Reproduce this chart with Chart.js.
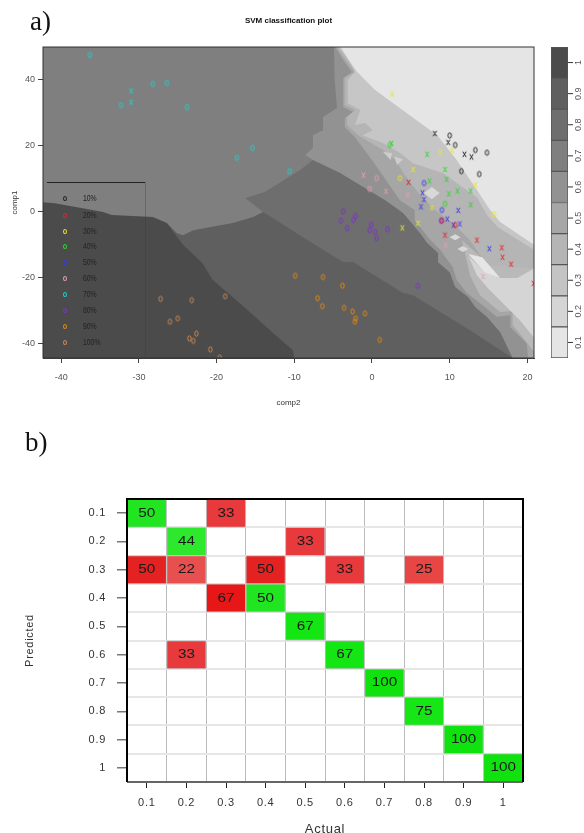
<!DOCTYPE html>
<html>
<head>
<meta charset="utf-8">
<title>SVM classification</title>
<script src="https://cdn.jsdelivr.net/npm/chart.js@4/dist/chart.umd.js"></script>
<style>
  html, body { margin: 0; padding: 0; background: #fff; }
  #page { position: relative; width: 584px; height: 833px; overflow: hidden; font-family: "Liberation Sans", sans-serif; }
  canvas { position: absolute; }
  #svmChart, #barChart { left: 0; top: 0; filter: blur(0.45px); }
  #barChart { left: 551px; }
  #matrixChart { left: 0; top: 420px; filter: blur(0.25px); }
  .panel { position: absolute; font-family: "Liberation Serif", serif; font-size: 27px; color: #111; }
  .legtext { position: absolute; left: 83px; font-size: 9.5px; color: #222; transform: scaleX(0.72); transform-origin: left center; line-height: 10px; filter: blur(0.3px); }
  .legdot { position: absolute; left: 63px; width: 2px; height: 3px; border-radius: 50%; border: 1px solid; }
</style>
</head>
<body>
<div id="page">
  <canvas id="svmChart" width="584" height="420"></canvas>
  <canvas id="barChart" width="33" height="420"></canvas>
  <canvas id="matrixChart" width="584" height="417"></canvas>
  <div class="panel" style="left:30px;top:6px">a)</div>
  <div class="panel" style="left:25px;top:427px">b)</div>
  <div style="position:absolute;left:47px;top:182px;width:98px;height:1px;background:#222"></div>
  <div style="position:absolute;left:145px;top:182px;width:1px;height:176px;background:rgba(60,60,60,0.35)"></div>
  <div id="legend"></div>
</div>

<script>
// scatter: [comp2, comp1, marker]
const points10 = [[8.1,23.5,'x'],[10,22.9,'o'],[9.8,20.8,'x'],[10.7,20,'o'],[11.9,17.2,'x'],[12.8,16.4,'x'],[13.3,18.5,'o'],[14.8,17.7,'o'],[11.5,12.1,'o'],[13.8,11.2,'o']];
const points20 = [[4.7,8.7,'x'],[9,-2.9,'o'],[10.7,-4.2,'o'],[9.4,-7.3,'x'],[13.5,-8.8,'x'],[16.7,-11.1,'x'],[16.8,-14,'x'],[17.9,-16.1,'x'],[20.8,-21.9,'x']];
const points30 = [[2.6,35.4,'x'],[8.8,17.8,'x'],[10.3,18.3,'x'],[5.3,12.6,'x'],[3.6,10,'o'],[13.3,7.9,'x'],[7.7,1,'x'],[15.7,-1,'o'],[3.9,-5.1,'x'],[5.9,-3.7,'x']];
const points40 = [[2.3,20,'o'],[2.5,20.5,'x'],[7.1,17.2,'x'],[9.4,12.6,'x'],[7.4,9.1,'x'],[9.6,9.6,'x'],[9.9,5.2,'x'],[11,6.1,'x'],[12.7,6.1,'x'],[9.4,2.2,'o'],[12.7,1.9,'x']];
const points50 = [[6.7,8.5,'o'],[6.5,5.5,'x'],[6.7,3.5,'x'],[6.3,1.3,'x'],[9,0.3,'o'],[11.1,0.2,'x'],[9.7,-2.4,'x'],[8.9,-2.9,'o'],[10.5,-4.2,'x'],[11.3,-3.9,'x'],[15.1,-11.4,'x']];
const points60 = [[-1.1,10.9,'x'],[0.6,10,'o'],[-0.3,6.7,'o'],[1.8,6,'x'],[4.6,4.9,'x'],[9.5,-10.3,'x'],[14.3,-19.8,'x']];
const points70 = [[-36.3,47.3,'o'],[-31,36.4,'x'],[-31,33,'x'],[-32.3,32.1,'o'],[-28.2,38.5,'o'],[-26.4,38.8,'o'],[-23.8,31.5,'o'],[-17.4,16.1,'o'],[-15.4,19.1,'o'],[-10.6,12.1,'o']];
const points80 = [[-3.7,-0.1,'o'],[-2.1,-1.5,'o'],[-4,-2.9,'o'],[-2.4,-2.7,'o'],[-3.2,-5.2,'o'],[-0.1,-4.1,'o'],[-0.3,-5.8,'o'],[0.4,-6.3,'o'],[0.6,-8.2,'o'],[2,-5.5,'o'],[5.9,-22.6,'o']];
const points90 = [[-9.9,-19.6,'o'],[-6.3,-20,'o'],[-3.8,-22.6,'o'],[-7,-26.4,'o'],[-6.4,-28.8,'o'],[-3.6,-29.3,'o'],[-2.5,-30.4,'o'],[-2.1,-32.5,'o'],[-2.2,-33.5,'o'],[-0.9,-31,'o'],[1,-39,'o']];
const points100 = [[-27.2,-26.6,'o'],[-23.2,-27,'o'],[-18.9,-25.8,'o'],[-26,-33.5,'o'],[-25,-32.5,'o'],[-22.6,-37.1,'o'],[-23.5,-38.6,'o'],[-23,-39.3,'o'],[-20.8,-41.9,'o'],[-19.6,-44.4,'o']];

const classNames = ['10%','20%','30%','40%','50%','60%','70%','80%','90%','100%'];
const classColors = ['#222222','#e8212b','#e6e62a','#2fd62f','#3a3ae6','#e5a0b0','#21cfcf','#7a35c4','#e08a12','#c88a5a'];
const legendTops = [198,215,231,246,262,278,294,310,326,342];

// decision surface, painted back to front
const band06 = [[-4.9,50],[-4.8,39.7],[-4.5,31.2],[-6.3,28.5],[-6.3,24.5],[-7.6,23],[-7.6,19.1],[-8.6,17],[-7.6,15.5],[18.1,-44.5],[21,-44.5],[21,50]];
const band05 = [[-4.8,50],[-3.7,45.8],[-2.6,42.1],[-3.7,40.3],[-3.7,31.5],[-2.4,30],[-3.5,28.2],[-3.5,25.5],[-2.2,22.4],[0,15.5],[3.6,3.3],[5.5,0.3],[5.5,-2.7],[7.2,-7.9],[8.8,-11.8],[10.4,-17],[10.9,-20.9],[12.2,-24.8],[13.9,-27.9],[16.1,-32.1],[17.8,-31.5],[17.8,-35.2],[19.9,-40],[20.1,-44.5],[21,-44.5],[21,50]];
const band04 = [[-4.6,50],[-3.4,45.8],[-2.2,42.1],[-3.5,40.3],[-3.5,32.1],[-2.2,30.6],[-3.2,28.5],[-3.2,26.1],[-1.8,23],[1.4,18.5],[3,15.5],[4.2,10.9],[6.2,4.8],[8.1,0.3],[10.7,-4.2],[12.6,-8.8],[13.9,-13.3],[15.2,-16.4],[16.5,-19.7],[18.7,-20],[20.9,-17.3],[21,50]];
const band04low = [[11.6,-8.8],[12.6,-19.4],[13.9,-25.5],[16.5,-30.6],[18.1,-30.3],[18.1,-34.5],[20.9,-42.7],[20.9,-17.3],[15.2,-16.4]];
const band02low = [[12.4,-13.6],[13.5,-19.4],[14.9,-23.3],[17.1,-28.5],[19,-33],[20.9,-38.5],[20.9,-17.3],[18.7,-20.3],[16.5,-20.3],[14.3,-17.9]];
const band01low = [[12.4,-13],[14.2,-14],[16.5,-20.3],[14.5,-18.5]];
const band03 = [[-4.4,50],[-3,45.8],[-2.2,42.1],[-3.1,39.7],[-3.1,32.7],[-1.5,30.6],[-2.2,26.1],[-0.9,26.7],[0.1,24.5],[-1.2,23],[1.4,20.6],[3.6,17.6],[5.3,14.5],[9.1,11.5],[13.5,4.2],[14.8,-1.2],[16.2,-4.9],[20.9,-11.8],[21,50]];
const band01 = [[-4.1,50],[-3,45.8],[-1.9,42.1],[0.4,36.7],[7.5,24.5],[8.4,23],[10.9,15.5],[12.2,10.9],[13.5,6.4],[15.2,0.3],[16.5,-3.3],[20.9,-10.3],[21,50]];
const patchA = [[6.7,5.5],[7.7,7.3],[8.7,5.5],[7.7,3.6]];
const patchB = [[10,-7.9],[10.7,-7],[11.4,-7.9],[10.7,-8.8]];
const patchC = [[11,-11.5],[11.7,-10.6],[12.4,-11.5],[11.7,-12.4]];
const patchD = [[1.4,18],[2.6,17.5],[2.4,15.5]];
const patchE = [[2.9,16.5],[4,15.6],[3.2,14]];
const patchF = [[12.5,-34.8],[13.3,-33.6],[14.1,-34.8],[13.3,-36]];
const patchG = [[13.6,-36.7],[14.4,-35.5],[15.2,-36.7],[14.4,-37.9]];
const band08 = [[-16.3,3.9],[-13.8,5.8],[-9.3,12.4],[-7.6,15.5],[-4.1,11.5],[1.7,3.3],[4,-0.6],[6.2,-6.7],[7.1,-9.7],[8.5,-12.7],[8.5,-15.5],[10,-18.5],[10.7,-23],[12.4,-26.1],[13.3,-29.1],[14.8,-32.1],[16.5,-36.7],[18.1,-44.5],[-14,-44.5],[-14,-0.3]];
const band09 = [[-26.4,-3.6],[-25.1,-6.7],[-24.3,-7.3],[-23,-5.8],[-17.9,-3.6],[-15.3,-1.8],[-14,-0.3],[-9.3,-7.3],[-3.7,-15.5],[-2.4,-15.5],[4,-24.8],[5.3,-25.5],[12.6,-36.1],[18.1,-44.5],[-26.4,-44.5]];
const band10 = [[-42.4,2.7],[-40.8,2.4],[-34.6,-0.3],[-33.5,-1.2],[-28.2,-1.8],[-26.4,-3.6],[-24.3,-10.3],[-21.8,-15.8],[-20.5,-20.9],[-17.9,-26.1],[-15.3,-31.5],[-12.7,-37],[-10.2,-42.1],[-10,-44.6],[-42.4,-44.6]];

const surfaces = [band06, band05, band04, band04low, band02low, band01low, band03, band01, patchA, patchB, patchC, patchD, patchE, patchF, patchG, band08, band09, band10];
const surfaceColors = ['#929292','#a6a6a6','#b5b5b5','#b9b9b9','#d5d5d5','#e5e5e5','#c6c6c6','#e5e5e5','#d8d8d8','#d8d8d8','#d8d8d8','#cdcdcd','#cdcdcd','#8e8e8e','#8e8e8e','#6e6e6e','#5f5f5f','#4b4b4b'];

const comp2Ticks = [-40,-30,-20,-10,0,10,20];
const comp1Ticks = [-40,-20,0,20,40];

// colour bar
const barLevels = [0.1,0.2,0.3,0.4,0.5,0.6,0.7,0.8,0.9,1];
const barColors = ['#e5e5e5','#d5d5d5','#c4c4c4','#b5b5b5','#a6a6a6','#929292','#7f7f7f','#6e6e6e','#5f5f5f','#4b4b4b'];

// confusion matrix, one row per predicted class
const actualLabels = ['0.1','0.2','0.3','0.4','0.5','0.6','0.7','0.8','0.9','1'];
const predictedLabels = ['0.1','0.2','0.3','0.4','0.5','0.6','0.7','0.8','0.9','1'];
const row01 = [50,null,33,null,null,null,null,null,null,null];
const row02 = [null,44,null,null,33,null,null,null,null,null];
const row03 = [50,22,null,50,null,33,null,25,null,null];
const row04 = [null,null,67,50,null,null,null,null,null,null];
const row05 = [null,null,null,null,67,null,null,null,null,null];
const row06 = [null,33,null,null,null,67,null,null,null,null];
const row07 = [null,null,null,null,null,null,100,null,null,null];
const row08 = [null,null,null,null,null,null,null,75,null,null];
const row09 = [null,null,null,null,null,null,null,null,100,null];
const row10 = [null,null,null,null,null,null,null,null,null,100];
const matrixRows = [row01,row02,row03,row04,row05,row06,row07,row08,row09,row10];
const greenByValue = { 44: '#2de82d', 50: '#22e522', 67: '#13e613', 75: '#16e616', 100: '#10e210' };
const redByValue = { 22: '#e85050', 25: '#e84545', 33: '#e8393d', 50: '#e52222', 67: '#e81717' };

Chart.defaults.font.family = '"Liberation Sans", sans-serif';
Chart.defaults.animation = false;

// R draws its o and x narrow and tall, so the marker is a small canvas
function glyph(kind, color) {
  const c = document.createElement('canvas');
  c.width = 7;
  c.height = 9;
  const g = c.getContext('2d');
  g.strokeStyle = color;
  g.lineWidth = 1;
  g.beginPath();
  if (kind === 'o') {
    g.ellipse(3.5, 4.5, 1.7, 2.7, 0, 0, Math.PI * 2);
  } else {
    g.moveTo(1.8, 1.8);
    g.lineTo(5.2, 7.2);
    g.moveTo(5.2, 1.8);
    g.lineTo(1.8, 7.2);
  }
  g.stroke();
  return c;
}

function fixedWidth(w) {
  return (scale) => { scale.width = w; };
}
function fixedHeight(h) {
  return (scale) => { scale.height = h; };
}
function setTicks(values) {
  return (scale) => { scale.ticks = values.map((v) => ({ value: v })); };
}

// top plot
const allPoints = [points10, points20, points30, points40, points50, points60, points70, points80, points90, points100];
const svmDatasets = [];
allPoints.forEach((pts, i) => {
  svmDatasets.push({
    label: classNames[i],
    data: pts.map((p) => ({ x: p[0], y: p[1] })),
    pointStyle: pts.map((p) => glyph(p[2], classColors[i])),
    pointRadius: 4,
    showLine: false,
    order: 0,
  });
});
surfaces.forEach((poly, i) => {
  svmDatasets.push({
    label: 'surface' + i,
    data: poly.concat([poly[0]]).map((p) => ({ x: p[0], y: p[1] })),
    showLine: true,
    fill: 'shape',
    backgroundColor: surfaceColors[i],
    borderWidth: 0,
    pointRadius: 0,
    tension: 0,
    order: 100 - i,
  });
});

const plotBackground = {
  id: 'plotBackground',
  beforeDatasetsDraw(chart) {
    const a = chart.chartArea;
    chart.ctx.fillStyle = '#7f7f7f';
    chart.ctx.fillRect(a.left, a.top, a.width, a.height);
  },
  afterDatasetsDraw(chart) {
    const a = chart.chartArea;
    const ctx = chart.ctx;
    ctx.strokeStyle = '#333';
    ctx.lineWidth = 1;
    ctx.strokeRect(a.left, a.top, a.width, a.height);
  },
};

new Chart(document.getElementById('svmChart'), {
  type: 'scatter',
  data: { datasets: svmDatasets },
  plugins: [plotBackground],
  options: {
    responsive: false,
    layout: { padding: { top: 0, right: 50, left: 0, bottom: 0 } },
    plugins: {
      legend: { display: false },
      tooltip: { enabled: false },
      title: {
        display: true,
        text: 'SVM classification plot',
        fullSize: false,
        color: '#111',
        font: { size: 8, weight: 'bold' },
        padding: { top: 16, bottom: 21.4 },
      },
    },
    scales: {
      x: {
        type: 'linear',
        min: -42.34,
        max: 20.85,
        afterBuildTicks: setTicks(comp2Ticks),
        afterFit: fixedHeight(62),
        grid: { drawOnChartArea: false, tickLength: 5, tickColor: '#444' },
        border: { color: '#444' },
        ticks: { color: '#555', font: { size: 9 }, padding: 9, maxRotation: 0, autoSkip: false },
        title: { display: true, text: 'comp2', color: '#333', font: { size: 8 }, padding: { top: 0, bottom: 12 } },
      },
      y: {
        type: 'linear',
        min: -44.5,
        max: 49.7,
        afterBuildTicks: setTicks(comp1Ticks),
        afterFit: fixedWidth(43),
        grid: { drawOnChartArea: false, tickLength: 5, tickColor: '#444' },
        border: { color: '#444' },
        ticks: { color: '#555', font: { size: 9 }, padding: 3, autoSkip: false },
        title: { display: true, text: 'comp1', color: '#333', font: { size: 8 }, padding: { top: 10, bottom: 0 } },
      },
    },
  },
});

// legend inset
const legendBox = document.getElementById('legend');
classNames.forEach((name, i) => {
  const dot = document.createElement('div');
  dot.className = 'legdot';
  dot.style.top = legendTops[i] - 2 + 'px';
  dot.style.borderColor = classColors[i];
  legendBox.appendChild(dot);
  const txt = document.createElement('div');
  txt.className = 'legtext';
  txt.style.top = legendTops[i] - 5 + 'px';
  txt.textContent = name;
  legendBox.appendChild(txt);
});

// colour bar
const barTicks = {
  id: 'barTicks',
  afterDraw(chart) {
    const ctx = chart.ctx;
    const a = chart.chartArea;
    const y = chart.scales.y;
    barLevels.forEach((lv) => {
      const py = y.getPixelForValue(lv);
      ctx.strokeStyle = '#333';
      ctx.lineWidth = 1;
      ctx.beginPath();
      ctx.moveTo(a.right, py);
      ctx.lineTo(a.right + 5, py);
      ctx.stroke();
      ctx.save();
      ctx.translate(a.right + 11, py);
      ctx.rotate(-Math.PI / 2);
      ctx.fillStyle = '#555';
      ctx.font = '9px "Liberation Sans"';
      ctx.textAlign = 'center';
      ctx.textBaseline = 'middle';
      ctx.fillText(String(lv), 0, 0);
      ctx.restore();
    });
  },
};

new Chart(document.getElementById('barChart'), {
  type: 'bar',
  data: {
    labels: [''],
    datasets: barLevels.map((lv, i) => ({
      data: [[lv - 0.05, lv + 0.05]],
      backgroundColor: barColors[i],
      borderColor: '#555',
      borderWidth: 1,
      borderSkipped: false,
      grouped: false,
      barPercentage: 1,
      categoryPercentage: 1,
    })),
  },
  plugins: [barTicks],
  options: {
    responsive: false,
    layout: { padding: { top: 47, bottom: 62, left: 0, right: 16 } },
    plugins: { legend: { display: false }, tooltip: { enabled: false } },
    scales: {
      x: { display: false },
      y: { display: false, min: 0.05, max: 1.05 },
    },
  },
});

// confusion matrix
const rowEdges = [];
for (let i = 0; i <= 10; i++) rowEdges.push(i + 0.5);
const rowCentres = predictedLabels.map((l, i) => i + 1);

const matrixDatasets = matrixRows.map((row, r) => ({
  data: row.map((v) => (v === null ? null : [r + 0.5, r + 1.5])),
  backgroundColor: row.map((v, c) => (c === r ? greenByValue[v] : redByValue[v])),
  borderColor: '#c4c4c4',
  borderWidth: 1,
  borderSkipped: false,
  grouped: false,
  barPercentage: 1,
  categoryPercentage: 1,
  xAxisID: 'x',
  yAxisID: 'y',
}));

const cellText = {
  id: 'cellText',
  beforeDraw(chart) {
    // the tick labels in the reference are spread out a little
    chart.ctx.letterSpacing = '0.7px';
  },
  afterDatasetsDraw(chart) {
    const ctx = chart.ctx;
    const a = chart.chartArea;
    matrixRows.forEach((row, r) => {
      const bars = chart.getDatasetMeta(r).data;
      row.forEach((v, c) => {
        if (v === null) return;
        const p = bars[c].getCenterPoint();
        ctx.save();
        ctx.translate(p.x, p.y);
        ctx.scale(1.22, 1);
        ctx.letterSpacing = '0px';
        ctx.fillStyle = '#1a1a1a';
        ctx.font = '12.5px "Liberation Sans"';
        ctx.textAlign = 'center';
        ctx.textBaseline = 'middle';
        ctx.fillText(String(v), 0, 0);
        ctx.restore();
      });
    });
    // frame: heavy on three sides, greyer at the bottom
    ctx.strokeStyle = '#666';
    ctx.lineWidth = 2;
    ctx.beginPath();
    ctx.moveTo(a.left, a.bottom);
    ctx.lineTo(a.right, a.bottom);
    ctx.stroke();
    ctx.strokeStyle = '#000';
    ctx.beginPath();
    ctx.moveTo(a.left, a.bottom);
    ctx.lineTo(a.left, a.top);
    ctx.lineTo(a.right, a.top);
    ctx.lineTo(a.right, a.bottom);
    ctx.stroke();
  },
};

new Chart(document.getElementById('matrixChart'), {
  type: 'bar',
  data: { labels: actualLabels, datasets: matrixDatasets },
  plugins: [cellText],
  options: {
    responsive: false,
    layout: { padding: { top: 79, right: 61, left: 0, bottom: 0 } },
    plugins: { legend: { display: false }, tooltip: { enabled: false } },
    scales: {
      x: {
        type: 'category',
        offset: true,
        afterFit: fixedHeight(55),
        grid: { offset: false, drawOnChartArea: false, tickLength: 6, tickColor: '#222' },
        border: { display: false },
        ticks: { color: '#333', font: { size: 11 }, padding: 8, maxRotation: 0, autoSkip: false },
        title: { display: true, text: 'Actual', color: '#333', font: { size: 13 }, align: 'center', padding: { top: 0, bottom: 0 } },
      },
      xGrid: {
        type: 'linear',
        position: 'bottom',
        offset: false,
        min: 0.5,
        max: 10.5,
        afterBuildTicks: setTicks(rowEdges),
        afterFit: fixedHeight(0),
        grid: { offset: false, color: '#bbbbbb', lineWidth: 1, drawTicks: false },
        border: { display: false },
        ticks: { display: false },
      },
      y: {
        type: 'linear',
        reverse: true,
        min: 0.5,
        max: 10.5,
        afterBuildTicks: setTicks(rowCentres),
        afterFit: fixedWidth(127),
        grid: { drawOnChartArea: false, tickLength: 10, tickColor: '#777', lineWidth: 1.5 },
        border: { display: false },
        ticks: {
          color: '#333',
          font: { size: 11 },
          padding: 11,
          autoSkip: false,
          callback: (v) => predictedLabels[v - 1],
        },
        title: { display: true, text: 'Predicted', color: '#333', font: { size: 11 }, padding: { top: 23, bottom: 0 } },
      },
      yGrid: {
        type: 'linear',
        position: 'left',
        reverse: true,
        min: 0.5,
        max: 10.5,
        afterBuildTicks: setTicks(rowEdges),
        afterFit: fixedWidth(0),
        grid: { color: '#e6e6e6', lineWidth: 2, drawTicks: false },
        border: { display: false },
        ticks: { display: false },
      },
    },
  },
});
</script>
</body>
</html>
